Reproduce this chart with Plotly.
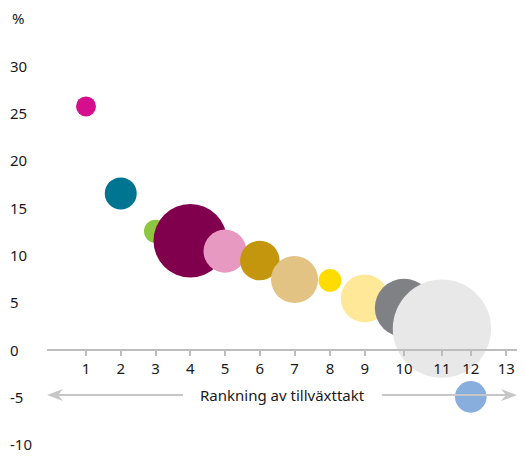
import plotly.graph_objects as go

# Rank labels and where each rank sits on the horizontal scale
rank_labels = ["1", "2", "3", "4", "5", "6", "7", "8", "9", "10", "11", "12", "13"]
rank_pos = [1.0, 2.0, 3.0, 4.0, 5.0, 6.0, 7.0, 8.02, 9.02, 10.15, 11.24, 12.07, 13.09]

# Growth rate (%) per ranked item
growth = [25.7, 16.5, 12.5, 11.5, 10.4, 9.4, 7.4, 7.3, 5.4, 4.4, 2.2, -5.0]

# Relative size of each item (bubble area)
size_val = [4.0, 10.2, 5.3, 54.0, 18.5, 15.6, 22.1, 5.2, 23.0, 34.1, 96.6, 10.0]

bubble_colors = [
    "#D40E8C", "#007592", "#8DC63F", "#80004E", "#E899C2", "#C3960E",
    "#E2C384", "#FFDC00", "#FFE898", "#808184", "#E8E8E8", "#88AEDD",
]

y_ticks = [30, 25, 20, 15, 10, 5, 0, -5, -10]

FONT = "Noto Sans"
TEXT = "#1a1a1a"
AXIS_GREY = "#bdbdbd"
ARROW_GREY = "#c6c6c6"

y_range = [-11.15, 34.83]
x_range = [-0.122, 13.40]
max_diam = 98.3
sizeref = 2.0 * max(size_val) / (max_diam ** 2)

fig = go.Figure()
fig.add_trace(go.Scatter(
    x=rank_pos[:len(growth)],
    y=growth,
    mode="markers",
    marker=dict(
        size=size_val,
        sizemode="area",
        sizeref=sizeref,
        color=bubble_colors,
        opacity=1,
        line=dict(width=0),
    ),
    cliponaxis=False,
    hoverinfo="skip",
    showlegend=False,
))

annotations = []
# Left-aligned value labels for the vertical scale
for v in y_ticks:
    annotations.append(dict(
        x=-0.083, xref="paper", xanchor="left",
        y=v, yref="y", yanchor="middle",
        text=str(v), showarrow=False,
        font=dict(family=FONT, size=15, color=TEXT),
    ))
annotations.append(dict(
    x=-0.079, xref="paper", xanchor="left",
    y=1, yref="paper", yanchor="middle", yshift=2,
    text="%", showarrow=False,
    font=dict(family=FONT, size=15, color=TEXT),
))
arrow_y = -4.81
annotations.append(dict(
    x=0.5, xref="paper", xanchor="center",
    y=arrow_y, yref="y", yanchor="middle",
    text="Rankning av tillväxttakt", showarrow=False,
    font=dict(family=FONT, size=15, color=TEXT),
))

shapes = [
    # left arrow shaft and head
    dict(type="line", xref="paper", xsizemode="pixel", xanchor=0, x0=10, x1=136,
         yref="y", y0=arrow_y, y1=arrow_y, line=dict(color=ARROW_GREY, width=2)),
    dict(type="path", xref="paper", xsizemode="pixel", xanchor=0,
         yref="y", ysizemode="pixel", yanchor=arrow_y,
         path="M0,0 L16,6 L11,0 L16,-6 Z", fillcolor=ARROW_GREY, line=dict(width=0)),
    # right arrow shaft and head
    dict(type="line", xref="paper", xsizemode="pixel", xanchor=1, x0=-135, x1=-10,
         yref="y", y0=arrow_y, y1=arrow_y, line=dict(color=ARROW_GREY, width=2)),
    dict(type="path", xref="paper", xsizemode="pixel", xanchor=1,
         yref="y", ysizemode="pixel", yanchor=arrow_y,
         path="M0,0 L-16,6 L-11,0 L-16,-6 Z", fillcolor=ARROW_GREY, line=dict(width=0)),
]

fig.update_layout(
    width=525, height=462,
    margin=dict(l=47, r=8, t=20, b=7),
    paper_bgcolor="white", plot_bgcolor="white",
    font=dict(family=FONT, size=15, color=TEXT),
    xaxis=dict(
        range=x_range,
        tickmode="array", tickvals=rank_pos, ticktext=rank_labels,
        ticks="outside", ticklen=5, tickwidth=1.5, tickcolor=AXIS_GREY,
        showline=True, linecolor=AXIS_GREY, linewidth=2,
        showgrid=False, zeroline=False,
        anchor="free", position=(0 - y_range[0]) / (y_range[1] - y_range[0]),
        layer="above traces",
        tickfont=dict(family=FONT, size=15, color=TEXT),
    ),
    yaxis=dict(
        range=y_range,
        showticklabels=False, showgrid=False, zeroline=False, showline=False,
        ticks="",
    ),
    annotations=annotations,
    shapes=shapes,
)

fig.write_html("out.html")
